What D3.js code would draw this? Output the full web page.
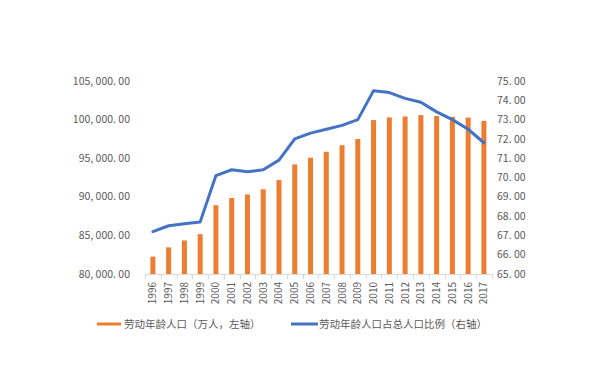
<!DOCTYPE html>
<html><head><meta charset="utf-8">
<script src="https://cdn.jsdelivr.net/npm/d3@7"></script>
<style>body{margin:0;background:#fff}svg{display:block}</style>
</head><body>
<svg id="c" width="612" height="390"></svg>
<script>
const years = ["1996","1997","1998","1999","2000","2001","2002","2003","2004","2005","2006","2007","2008","2009","2010","2011","2012","2013","2014","2015","2016","2017"];
const laborPop = [82245,83448,84338,85157,88910,89849,90302,90976,92184,94197,95068,95833,96680,97484,99938,100283,100403,100582,100469,100361,100260,99829];
const laborRatio = [67.2,67.5,67.6,67.7,70.1,70.4,70.3,70.4,70.9,72.0,72.3,72.5,72.7,73.0,74.5,74.4,74.1,73.9,73.4,73.0,72.5,71.8];
const leftTicks = [80000,85000,90000,95000,100000,105000];
const rightTicks = [65,66,67,68,69,70,71,72,73,74,75];
const legendLabels = ["劳动年龄人口（万人，左轴）","劳动年龄人口占总人口比例（右轴）"];

(function(){
const svg = d3.select("#c");
const font = "'Noto Sans CJK SC','DejaVu Sans',sans-serif";
const pL = 145, pR = 491.8, pT = 81, pB = 274;

const xb = d3.scaleBand().domain(years).range([pL, pR]);
const yL = d3.scaleLinear().domain([80000,105000]).range([pB, pT]);
const yR = d3.scaleLinear().domain([65,75]).range([pB, pT]);

const fmtL = d => d3.format(",.2f")(d).replace(/,/g, ", ").replace(".", ". ");
const fmtR = d => d3.format(".2f")(d).replace(".", ". ");

svg.append("g").selectAll("text").data(leftTicks).join("text")
  .attr("x", 130).attr("y", d => yL(d)).attr("dy", "0.35em")
  .attr("text-anchor", "end").attr("font-size", 10.5).attr("fill", "#595959")
  .attr("font-family", font).text(fmtL);

svg.append("g").selectAll("text").data(rightTicks).join("text")
  .attr("x", 497).attr("y", d => yR(d)).attr("dy", "0.35em")
  .attr("text-anchor", "start").attr("font-size", 10.5).attr("fill", "#595959")
  .attr("font-family", font).text(fmtR);

svg.append("g").selectAll("rect").data(years).join("rect")
  .attr("x", (d) => xb(d) + xb.bandwidth()/2 - 2.5)
  .attr("width", 5)
  .attr("y", (d,i) => yL(laborPop[i]))
  .attr("height", (d,i) => pB - yL(laborPop[i]))
  .attr("fill", "#ED7D31");

const ax = svg.append("g");
ax.append("line").attr("x1", pL).attr("x2", pR).attr("y1", pB + 0.5).attr("y2", pB + 0.5)
  .attr("stroke", "#D9D9D9").attr("stroke-width", 1);
const tickPos = years.map(d => xb(d)).concat([pR]);
ax.selectAll("line.t").data(tickPos).join("line").attr("class","t")
  .attr("x1", d => Math.round(d)+0.5).attr("x2", d => Math.round(d)+0.5)
  .attr("y1", pB).attr("y2", pB + 5)
  .attr("stroke", "#D9D9D9");

ax.selectAll("text").data(years).join("text")
  .attr("transform", d => `translate(${xb(d) + xb.bandwidth()/2},${pB + 8}) rotate(-90)`)
  .attr("text-anchor", "end").attr("dy", "0.35em")
  .attr("font-size", 10).attr("fill", "#595959").attr("font-family", font)
  .text(d => d);

const line = d3.line().x((d,i) => xb(years[i]) + xb.bandwidth()/2).y(d => yR(d));
svg.append("path").datum(laborRatio).attr("d", line)
  .attr("fill", "none").attr("stroke", "#4472C4").attr("stroke-width", 3)
  .attr("stroke-linejoin", "round").attr("stroke-linecap", "round");

const lg = svg.append("g");
const ly = 324;
lg.append("line").attr("x1", 97).attr("x2", 121).attr("y1", ly).attr("y2", ly)
  .attr("stroke", "#ED7D31").attr("stroke-width", 3);
lg.append("text").attr("x", 124).attr("y", ly).attr("dy", "0.35em")
  .attr("font-size", 10.5).attr("fill", "#595959").attr("font-family", font).text(legendLabels[0]);
lg.append("line").attr("x1", 291).attr("x2", 318).attr("y1", ly).attr("y2", ly)
  .attr("stroke", "#4472C4").attr("stroke-width", 3);
lg.append("text").attr("x", 319).attr("y", ly).attr("dy", "0.35em")
  .attr("font-size", 10.5).attr("fill", "#595959").attr("font-family", font).text(legendLabels[1]);
})();
</script>
</body></html>
